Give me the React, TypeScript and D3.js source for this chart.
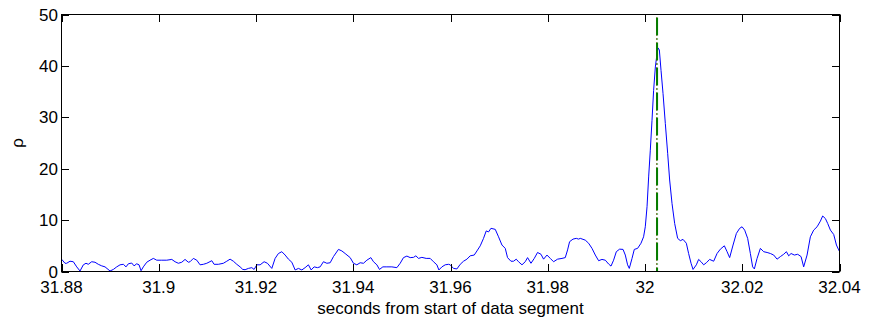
import React from "react";
import * as d3 from "d3";

// time offsets from 31.88 s, in milliseconds
const offsetMs = [
  0, 0.72, 1.07, 1.75, 2.43, 3.13, 3.81, 4.49, 5.04, 5.51, 6.21, 6.89, 7.57, 8.27, 8.95, 9.98,
  10.66, 11.36, 12.04, 12.72, 13.27, 13.75, 14.44, 14.92, 15.47, 15.95, 16.36, 16.83, 17.53, 18.21,
  18.89, 19.59, 20.62, 21.65, 22.68, 23.35, 24.03, 24.73, 25.41, 26.09,
  26.44, 27.12, 27.82, 28.5, 29.18, 29.88, 30.91, 31.38, 32.26, 33.29, 33.99, 34.67, 35.35, 36.05,
  36.73, 37.28, 37.76, 38.44, 39.14, 39.61, 40.17, 40.85, 41.67, 42.35, 43.25, 43.93, 44.61, 45.31,
  45.99, 46.67, 47.37, 48.05, 48.73, 49.43, 50.1, 50.78, 51.34, 51.96, 52.63,
  53.19, 53.87, 54.57, 55.25, 55.93, 56.96, 57.66, 58.33, 59.37, 60.04, 60.74, 61.42, 62.1, 62.8,
  63.62, 64.16, 64.86, 65.39, 66.09, 66.91, 67.94, 68.97, 69.65, 70.33, 71.03, 71.71, 72.39, 72.88,
  73.42, 74.11, 75.0, 75.82, 76.5, 77.2, 77.61, 78.23, 78.91, 79.59,
  79.94, 80.62, 81.32, 82.0, 82.68, 83.38, 84.05, 84.88, 85.44, 86.12, 86.79, 87.35, 87.82, 88.32,
  89.2, 89.88, 90.58, 91.26, 91.73, 92.43, 92.96, 93.52, 93.99, 94.7, 95.37, 95.85, 96.55, 97.23,
  97.9, 98.61, 99.14, 99.84, 100.52, 101.2, 102.02, 102.93, 103.6, 104.08, 104.49, 105.19, 105.87, 106.34,
  106.69, 107.72, 108.4, 109.1, 109.78, 110.46, 111.15, 111.84, 112.52, 113.01, 113.54, 114.1, 114.78,
  115.48, 115.95, 116.42, 116.77, 117.33, 117.8, 118.48, 119.18, 119.71, 120.06, 120.42, 120.75, 121.09,
  121.44, 121.77, 122.13, 122.48, 122.68, 122.95, 123.3, 123.71, 124.18, 124.66, 125.07, 125.56, 126.1,
  126.71, 127.27, 127.82, 128.5, 128.97, 129.47, 129.88, 130.56, 131.03, 131.53, 132.06, 132.62, 133.29,
  134.12, 134.82, 135.5, 136.32, 136.88, 137.41, 138.11, 138.79, 139.47, 139.96, 140.5, 141.11, 141.67,
  142.14, 142.49, 143.05, 143.73, 144.41, 145.11, 145.79, 146.47, 147.16, 147.84, 148.52, 149.08, 149.55,
  150.04, 150.72, 151.4, 152.1, 152.63, 153.33, 154.01, 154.69, 155.39, 156.07, 156.54, 157.1, 157.57,
  158.13, 158.81, 159.37, 159.84, 160.0,
];

const rho = [
  2.4, 1.6, 1.6, 2.0, 1.9, 0.9, 0.1, 1.3, 1.6, 1.4, 1.9, 1.8, 1.4, 1.1, 0.9, 0.1,
  0.4, 0.9, 1.3, 1.4, 0.9, 1.5, 1.65, 1.1, 1.5, 1.3, 0.15, 0.9, 1.8, 2.2,
  2.55, 2.2, 2.2, 2.2, 2.35, 1.9, 1.6, 1.8, 2.35, 1.8,
  1.9, 2.55, 2.2, 1.3, 1.4, 1.6, 2.1, 1.4, 1.4, 1.6, 2.0, 2.4, 2.0, 1.4,
  0.9, 0.4, 0.35, 0.6, 0.75, 0.4, 1.3, 1.3, 1.9, 1.6, 0.6, 2.55, 3.5, 3.85,
  3.2, 2.4, 1.8, 0.3, 0.6, 0.3, 0.75, 1.3, 0.3, 0.9, 0.75,
  0.9, 1.9, 1.6, 1.7, 2.9, 4.3, 4.0, 3.5, 2.7, 1.6, 1.3, 1.7, 1.6, 2.2,
  2.7, 1.9, 1.3, 0.4, 0.9, 0.9, 0.9, 0.75, 1.6, 2.7, 3.0, 2.7, 2.75, 3.05,
  2.55, 2.75, 2.55, 2.55, 1.9, 1.3, 0.3, 0.9, 1.3, 1.4,
  1.3, 0.6, 0.5, 1.4, 2.0, 2.4, 3.05, 3.2, 4.0, 5.0, 6.45, 7.9, 7.7, 8.4,
  8.2, 6.75, 5.15, 4.5, 2.7, 2.0, 2.0, 2.4, 1.9, 1.3, 1.9, 2.7, 1.6, 2.55,
  3.7, 3.35, 2.4, 3.2, 2.55, 1.9, 2.4, 2.55, 2.7, 4.2, 5.8, 6.3, 6.45, 6.3,
  6.45, 6.1, 5.5, 4.5, 3.2, 2.1, 2.35, 2.2, 1.45, 1.05, 2.2, 3.85, 4.35,
  4.3, 3.2, 1.3, 0.6, 2.55, 4.3, 4.5, 5.5, 6.75, 8.7, 12.6, 18.4, 23.6,
  29.4, 35.2, 39.8, 42.4, 43.5, 43.1, 39.1, 34.6, 28.8, 23.0, 17.8, 13.2, 9.35,
  6.45, 6.0, 6.25, 5.5, 3.5, 1.6, 0.4, 1.3, 2.35, 1.9, 1.3, 1.7, 2.35,
  2.0, 3.5, 4.35, 5.0, 3.85, 2.7, 5.15, 7.4, 8.4, 8.7, 8.05, 6.45, 3.5,
  0.9, 0.5, 2.55, 4.5, 3.85, 3.7, 3.5, 3.2, 2.4, 2.9, 3.35, 3.85, 3.05,
  3.5, 3.2, 3.35, 2.9, 0.9, 3.2, 6.75, 8.05, 8.7, 9.8, 10.8, 10.3, 9.35,
  8.05, 7.2, 5.15, 4.2, 3.9,
];

const startTime = 31.88;
const xTicks = [31.88, 31.9, 31.92, 31.94, 31.96, 31.98, 32.0, 32.02, 32.04];
const xTickLabels = ["31.88", "31.9", "31.92", "31.94", "31.96", "31.98", "32", "32.02", "32.04"];
const yTicks = [0, 10, 20, 30, 40, 50];
const markerTrue = 32.00238;
const markerEst = 32.00248;

const W = 874;
const H = 319;
const left = 61.5;
const right = 839.5;
const top = 14.5;
const bottom = 271.5;
const tickLen = 7.5;
const font = "'Liberation Sans', Arial, Helvetica, sans-serif";
const fs = 17;

export default function App() {
  const x = d3.scaleLinear().domain([31.88, 32.04]).range([left, right]);
  const y = d3.scaleLinear().domain([0, 50]).range([bottom, top]);
  const pts: [number, number][] = offsetMs.map((o, i) => [startTime + o / 1000, rho[i]]);
  const line = d3
    .line<[number, number]>()
    .x((d) => x(d[0]))
    .y((d) => y(d[1]));

  return (
    <div style={{ position: "absolute", left: 0, top: 0 }}>
      <svg width={W} height={H} style={{ display: "block", background: "#fff" }}>
        <rect x={0} y={0} width={W} height={H} fill="#fff" />
        <path d={line(pts) || ""} fill="none" stroke="#0000ff" strokeWidth={1} />
        <line
          x1={x(markerTrue)}
          x2={x(markerTrue)}
          y1={y(50)}
          y2={y(0)}
          stroke="#ff0000"
          strokeWidth={1}
          strokeDasharray="18,3,1,3"
          strokeDashoffset={-3}
        />
        <line
          x1={x(markerEst)}
          x2={x(markerEst)}
          y1={y(50)}
          y2={y(0)}
          stroke="#008000"
          strokeWidth={2}
          strokeDasharray="18,3,1,3"
          strokeDashoffset={-3}
        />
        <rect
          x={left}
          y={top}
          width={right - left}
          height={bottom - top}
          fill="none"
          stroke="#000"
          strokeWidth={1}
        />
        {xTicks.map((t, i) => (
          <g key={"xt" + i}>
            <line x1={Math.round(x(t)) + 0.5} x2={Math.round(x(t)) + 0.5} y1={bottom} y2={bottom - tickLen} stroke="#000" />
            <line x1={Math.round(x(t)) + 0.5} x2={Math.round(x(t)) + 0.5} y1={top} y2={top + tickLen} stroke="#000" />
            <text
              x={x(t)}
              y={293}
              textAnchor="middle"
              fontFamily={font}
              fontSize={fs}
              fill="#000"
            >
              {xTickLabels[i]}
            </text>
          </g>
        ))}
        {yTicks.map((v, i) => (
          <g key={"yt" + i}>
            <line x1={left} x2={left + tickLen} y1={Math.round(y(v)) + 0.5} y2={Math.round(y(v)) + 0.5} stroke="#000" />
            <line x1={right} x2={right - tickLen} y1={Math.round(y(v)) + 0.5} y2={Math.round(y(v)) + 0.5} stroke="#000" />
            <text
              x={58}
              y={y(v)}
              dy="0.36em"
              textAnchor="end"
              fontFamily={font}
              fontSize={fs}
              fill="#000"
            >
              {v}
            </text>
          </g>
        ))}
        <text
          x={(left + right) / 2}
          y={314}
          textAnchor="middle"
          fontFamily={font}
          fontSize={fs}
          fill="#000"
        >
          seconds from start of data segment
        </text>
        <text
          transform={`translate(23,${(top + bottom) / 2}) rotate(-90)`}
          textAnchor="middle"
          fontFamily={font}
          fontSize={fs}
          fill="#000"
        >
          ρ
        </text>
      </svg>
    </div>
  );
}
